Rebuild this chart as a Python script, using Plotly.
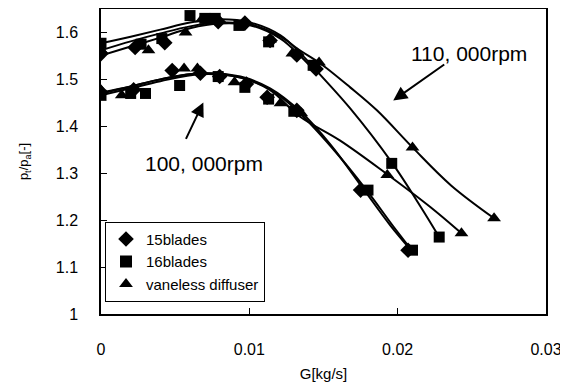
import plotly.graph_objects as go

# ---- measured points (read from the reference picture) ----
# 100,000 rpm
b15_100_x = [0, 0.0022, 0.0048, 0.0067, 0.0080, 0.0098, 0.0112, 0.0132, 0.0175, 0.0207]
b15_100_y = [1.472, 1.478, 1.519, 1.513, 1.506, 1.490, 1.462, 1.434, 1.264, 1.136]
b16_100_x = [0, 0.0020, 0.0030, 0.0053, 0.0079, 0.0097, 0.0113, 0.0130, 0.0180, 0.0210]
b16_100_y = [1.466, 1.470, 1.470, 1.487, 1.506, 1.483, 1.458, 1.432, 1.264, 1.136]
vl_100_x = [0, 0.0014, 0.0056, 0.0065, 0.0090, 0.0121, 0.0135, 0.0193, 0.0243]
vl_100_y = [1.477, 1.466, 1.523, 1.523, 1.494, 1.449, 1.428, 1.296, 1.172]
# 110,000 rpm
b15_110_x = [0, 0.0023, 0.0043, 0.0079, 0.0097, 0.0114, 0.0132, 0.0145]
b15_110_y = [1.555, 1.568, 1.578, 1.623, 1.620, 1.583, 1.552, 1.522]
b16_110_x = [0, 0.0027, 0.0041, 0.0060, 0.0070, 0.0077, 0.0093, 0.0113, 0.0143, 0.0196, 0.0228]
b16_110_y = [1.577, 1.575, 1.587, 1.636, 1.630, 1.630, 1.615, 1.580, 1.530, 1.321, 1.164]
vl_110_x = [0, 0.0032, 0.0057, 0.0068, 0.0114, 0.0129, 0.0147, 0.0210, 0.0265]
vl_110_y = [1.562, 1.562, 1.600, 1.628, 1.585, 1.555, 1.536, 1.355, 1.204]

# ---- smooth trend curves ----
c15_100_x = [0, 0.0020, 0.0040, 0.0067, 0.0094, 0.0114, 0.0135, 0.0155, 0.0177, 0.0195, 0.0209]
c15_100_y = [1.470, 1.485, 1.500, 1.513, 1.506, 1.481, 1.430, 1.360, 1.266, 1.189, 1.136]
c16_100_x = [0, 0.0020, 0.0040, 0.0067, 0.0094, 0.0114, 0.0134, 0.0155, 0.0179, 0.0197, 0.0210]
c16_100_y = [1.466, 1.481, 1.496, 1.511, 1.504, 1.479, 1.428, 1.357, 1.264, 1.187, 1.134]
cvl_100_x = [0, 0.0020, 0.0040, 0.0067, 0.0094, 0.0114, 0.0134, 0.0161, 0.0192, 0.0222, 0.0243]
cvl_100_y = [1.472, 1.485, 1.500, 1.513, 1.504, 1.477, 1.421, 1.370, 1.300, 1.228, 1.172]
c15_110_x = [0, 0.0020, 0.0040, 0.0060, 0.0080, 0.0101, 0.0121, 0.0134, 0.0145]
c15_110_y = [1.551, 1.570, 1.589, 1.609, 1.619, 1.615, 1.587, 1.551, 1.515]
c16_110_x = [0, 0.0020, 0.0040, 0.0060, 0.0080, 0.0101, 0.0121, 0.0134, 0.0148, 0.0168, 0.0196, 0.0216, 0.0228]
c16_110_y = [1.577, 1.591, 1.606, 1.621, 1.628, 1.621, 1.594, 1.557, 1.509, 1.438, 1.323, 1.226, 1.164]
cvl_110_x = [0, 0.0020, 0.0040, 0.0060, 0.0080, 0.0101, 0.0121, 0.0134, 0.0147, 0.0168, 0.0186, 0.0210, 0.0236, 0.0265]
cvl_110_y = [1.562, 1.581, 1.598, 1.613, 1.621, 1.617, 1.591, 1.562, 1.536, 1.483, 1.434, 1.355, 1.274, 1.204]

x_ticks = [0, 0.01, 0.02, 0.03]
x_tick_labels = ["0", "0.01", "0.02", "0.03"]
y_ticks = [1, 1.1, 1.2, 1.3, 1.4, 1.5, 1.6]
y_tick_labels = ["1", "1.1", "1.2", "1.3", "1.4", "1.5", "1.6"]

series = [
    ("15blades", "diamond", 12,
     [(b15_100_x, b15_100_y), (b15_110_x, b15_110_y)],
     [(c15_100_x, c15_100_y), (c15_110_x, c15_110_y)]),
    ("16blades", "square", 11,
     [(b16_100_x, b16_100_y), (b16_110_x, b16_110_y)],
     [(c16_100_x, c16_100_y), (c16_110_x, c16_110_y)]),
    ("vaneless diffuser", "triangle-up", 12,
     [(vl_100_x, vl_100_y), (vl_110_x, vl_110_y)],
     [(cvl_100_x, cvl_100_y), (cvl_110_x, cvl_110_y)]),
]

FONT = "Liberation Sans, Arial, sans-serif"
fig = go.Figure()
for name, sym, msize, pts, curves in series:
    for cx, cy in curves:
        fig.add_trace(go.Scatter(
            x=cx, y=cy, mode="lines", showlegend=False, hoverinfo="skip",
            line=dict(color="black", width=2, shape="spline", smoothing=1.0)))
for name, sym, msize, pts, curves in series:
    for i, (px, py) in enumerate(pts):
        fig.add_trace(go.Scatter(
            x=px, y=py, mode="markers", name=name, showlegend=(i == 0),
            marker=dict(symbol=sym, size=msize, color="black")))

fig.add_annotation(x=0.0248, y=1.555, xref="x", yref="y", text="110, 000rpm",
                   showarrow=False, font=dict(family=FONT, size=21, color="black"))
fig.add_annotation(x=0.0197, y=1.455, ax=0.02324, ay=1.534,
                   xref="x", yref="y", axref="x", ayref="y", text="", showarrow=True,
                   arrowhead=2, arrowsize=1.4, arrowwidth=2, arrowcolor="black")
fig.add_annotation(x=0.00696, y=1.321, xref="x", yref="y", text="100, 000rpm",
                   showarrow=False, font=dict(family=FONT, size=21, color="black"))
fig.add_annotation(x=0.0069, y=1.451, ax=0.00568, ay=1.370,
                   xref="x", yref="y", axref="x", ayref="y", text="", showarrow=True,
                   arrowhead=2, arrowsize=1.4, arrowwidth=2, arrowcolor="black")

# the page places the figure 8 px from the window's top-left corner
fig.update_layout(
    width=560, height=379,
    margin=dict(l=93, r=22, t=1, b=73),
    paper_bgcolor="white", plot_bgcolor="white",
    font=dict(family=FONT, size=16, color="black"),
    showlegend=True,
    legend=dict(x=0.009, y=0.04, xanchor="left", yanchor="bottom",
                bordercolor="black", borderwidth=1, bgcolor="white",
                font=dict(size=15), tracegroupgap=0, itemsizing="constant",
                itemwidth=30),
    xaxis=dict(range=[0, 0.03], tickvals=x_ticks, ticktext=x_tick_labels,
               ticks="inside", ticklen=6, tickcolor="black", automargin=False,
               showline=True, linecolor="black", linewidth=1.5, mirror=True,
               showgrid=False, zeroline=False, ticklabelstandoff=20,
               tickfont=dict(size=16),
               title=dict(text="G[kg/s]", font=dict(size=15), standoff=12)),
    yaxis=dict(range=[1, 1.65], tickvals=y_ticks, ticktext=y_tick_labels,
               ticks="inside", ticklen=6, tickcolor="black", automargin=False,
               showline=True, linecolor="black", linewidth=1.5, mirror=True,
               showgrid=False, zeroline=False, ticklabelstandoff=18,
               tickfont=dict(size=16),
               title=dict(text="p<sub>t</sub>/p<sub>a</sub>[-]", font=dict(size=13), standoff=24)),
)

fig.write_html("out.html")
